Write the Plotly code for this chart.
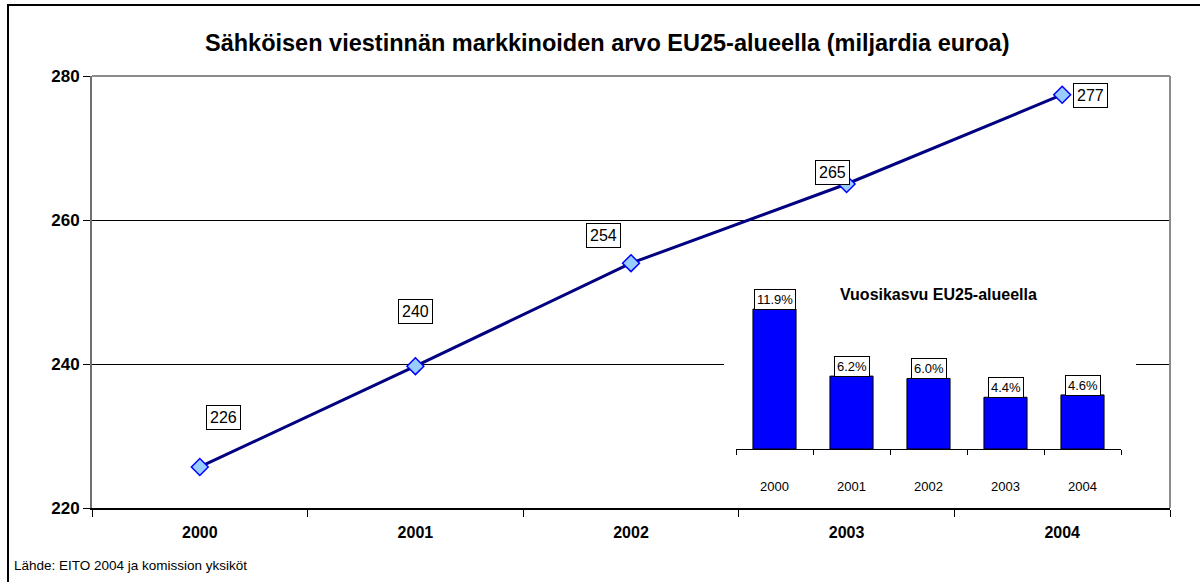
import plotly.graph_objects as go

years = ["2000", "2001", "2002", "2003", "2004"]
market_value = [225.7, 239.7, 254.0, 265.0, 277.4]
value_labels = ["226", "240", "254", "265", "277"]
growth = [11.9, 6.2, 6.0, 4.4, 4.6]
growth_labels = ["11.9%", "6.2%", "6.0%", "4.4%", "4.6%"]

# label offsets (pixels) as placed in the original
label_dx = [24, 0, -28, -14, 28]
label_dy = [49, 55, 28, 12, -1]

FONT = "Liberation Sans, Arial, sans-serif"

fig = go.Figure()

fig.add_trace(go.Scatter(
    x=years, y=market_value, mode="lines+markers",
    line=dict(color="#000080", width=3),
    marker=dict(symbol="diamond", size=13, color="#99CCFF",
                line=dict(color="#0000FF", width=1.5)),
    xaxis="x", yaxis="y", showlegend=False, hoverinfo="skip"))

# empty trace that creates the white backing subplot of the inset
fig.add_trace(go.Scatter(x=[], y=[], xaxis="x2", yaxis="y2",
                         showlegend=False, hoverinfo="skip"))

fig.add_trace(go.Bar(
    x=years, y=growth, width=0.56,
    marker=dict(color="#0000FF", line=dict(color="black", width=1)),
    xaxis="x3", yaxis="y3", showlegend=False, hoverinfo="skip"))

annotations = []
for i, (v, t, dx, dy) in enumerate(zip(market_value, value_labels, label_dx, label_dy)):
    annotations.append(dict(
        x=i, y=v, xref="x", yref="y", text=t, showarrow=False,
        xshift=dx, yshift=dy, xanchor="center", yanchor="middle",
        font=dict(family=FONT, size=16, color="black"),
        bordercolor="black", borderwidth=1, borderpad=3, bgcolor="white"))

for i, (g, t) in enumerate(zip(growth, growth_labels)):
    annotations.append(dict(
        x=i, y=g, xref="x3", yref="y3", text=t, showarrow=False,
        xanchor="center", yanchor="bottom", yshift=-1,
        font=dict(family=FONT, size=13, color="black"),
        bordercolor="black", borderwidth=1, borderpad=2, bgcolor="white"))

annotations.append(dict(
    x=0.525, y=0.936, xref="x3 domain", yref="y3 domain",
    text="<b>Vuosikasvu EU25-alueella</b>", showarrow=False,
    xanchor="center", yanchor="middle",
    font=dict(family=FONT, size=16, color="black")))

annotations.append(dict(
    x=(607 - 92) / 1078, y=(508 - 43) / 432, xref="paper", yref="paper",
    text="<b>Sähköisen viestinnän markkinoiden arvo EU25-alueella (miljardia euroa)</b>",
    showarrow=False, xanchor="center", yanchor="middle",
    font=dict(family=FONT, size=23.5, color="black")))

annotations.append(dict(
    x=(12 - 92) / 1078, y=(508 - 565) / 432, xref="paper", yref="paper",
    text="Lähde: EITO 2004 ja komission yksiköt", showarrow=False,
    xanchor="left", yanchor="middle",
    font=dict(family=FONT, size=13.5, color="black")))

shapes = [
    # white backing of the inset chart (covers the main gridline)
    dict(type="rect", xref="x2 domain", yref="y2 domain",
         x0=0, x1=1, y0=0, y1=1,
         fillcolor="white", line=dict(width=0), layer="below"),
    # plot area top and right border
    dict(type="line", xref="paper", yref="paper", x0=0, x1=1, y0=1, y1=1,
         line=dict(color="#8c8c8c", width=2), layer="above"),
    dict(type="line", xref="paper", yref="paper", x0=1, x1=1, y0=0, y1=1,
         line=dict(color="#8c8c8c", width=2), layer="above"),
    # outer chart frame
    dict(type="rect", xref="paper", yref="paper",
         x0=(8 - 92) / 1078, x1=(1215 - 92) / 1078,
         y0=(508 - 600) / 432, y1=(508 - 5) / 432,
         line=dict(color="black", width=2), fillcolor="rgba(0,0,0,0)", layer="below"),
]

fig.update_layout(
    width=1200, height=582,
    margin=dict(l=92, r=30, t=76, b=74),
    paper_bgcolor="white", plot_bgcolor="white",
    font=dict(family=FONT, color="black"),
    xaxis=dict(
        type="category", range=[-0.5, 4.5], tickson="boundaries",
        ticks="outside", ticklen=7, tickcolor="black",
        showline=True, linecolor="black", linewidth=1.5,
        showgrid=False, fixedrange=True,
        tickfont=dict(family=FONT, size=16, color="black"),
        tickprefix="<b>", ticksuffix="</b>", ticklabelstandoff=9),
    yaxis=dict(
        range=[220, 280], dtick=20, tick0=220,
        ticks="outside", ticklen=7, tickcolor="black",
        showline=True, linecolor="#707070", linewidth=2,
        showgrid=True, gridcolor="black", gridwidth=1,
        zeroline=False, fixedrange=True,
        tickfont=dict(family=FONT, size=17, color="black"),
        tickprefix="<b>", ticksuffix="</b>"),
    xaxis2=dict(
        domain=[(724 - 92) / 1078, (1136 - 92) / 1078], anchor="y2",
        visible=False, showgrid=False, zeroline=False, fixedrange=True),
    yaxis2=dict(
        domain=[(508 - 503) / 432, (508 - 280) / 432], anchor="x2",
        visible=False, showgrid=False, zeroline=False, fixedrange=True),
    xaxis3=dict(
        domain=[(736 - 92) / 1078, (1121 - 92) / 1078], anchor="y3",
        type="category", range=[-0.5, 4.5], tickson="boundaries",
        ticks="outside", ticklen=5, tickcolor="black",
        showline=True, linecolor="black", linewidth=1,
        showgrid=False, fixedrange=True, ticklabelstandoff=25,
        tickfont=dict(family=FONT, size=13, color="black")),
    yaxis3=dict(
        domain=[(508 - 449) / 432, (508 - 284.4) / 432], anchor="x3",
        range=[0, 14], visible=False, showgrid=False, fixedrange=True),
    annotations=annotations,
    shapes=shapes,
    bargap=0.44,
)

fig.write_html("out.html", config={"displayModeBar": False},
               post_script="document.body.style.margin='0px';")
